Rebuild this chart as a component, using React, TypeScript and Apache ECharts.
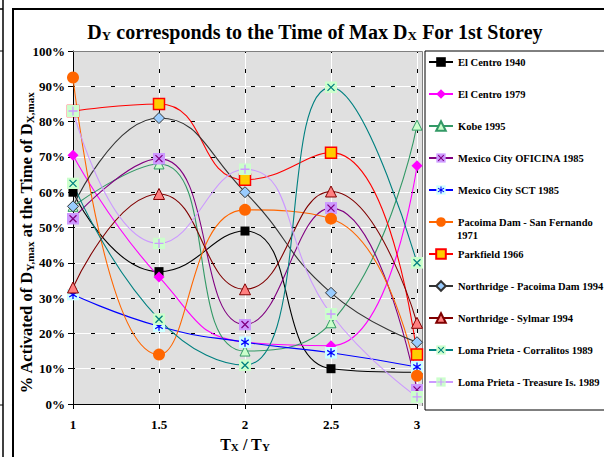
import React, { useEffect, useRef } from "react";
import * as echarts from "echarts";

// ---- data ----
const xValues = [1, 1.5, 2, 2.5, 3];
const xTickLabels = ["1", "1.5", "2", "2.5", "3"];
const elCentro1940 = [60, 37.5, 49, 10, 9];
const elCentro1979 = [70.5, 36, 17.5, 16.5, 67.5];
const kobe1995 = [56, 68, 15, 23, 79];
const mexicoOficina1985 = [52.5, 69.5, 22.5, 55.5, 4];
const mexicoSct1985 = [31, 22, 17.5, 14.5, 10.5];
const pacoimaSanFernando1971 = [92.5, 14, 55, 52.5, 8];
const parkfield1966 = [83, 85, 63.5, 71.2, 14];
const northridgePacoima1994 = [56, 81, 60, 31.5, 17.5];
const northridgeSylmar1994 = [33, 59.5, 32.5, 60.2, 23];
const lomaCorralitos1989 = [62.5, 24, 11, 89.7, 40];
const lomaTreasure1989 = [83, 45.5, 66.5, 25.5, 2];

const seriesNames = [
  "El Centro 1940",
  "El Centro 1979",
  "Kobe 1995",
  "Mexico City OFICINA 1985",
  "Mexico City SCT 1985",
  "Pacoima Dam - San Fernando 1971",
  "Parkfield 1966",
  "Northridge - Pacoima Dam 1994",
  "Northridge - Sylmar 1994",
  "Loma Prieta - Corralitos 1989",
  "Loma Prieta - Treasure Is. 1989",
];

const FONT = "'Liberation Serif', 'Times New Roman', serif";

function svgSymbol(bg: string, inner: string): string {
  const svg =
    `<svg xmlns='http://www.w3.org/2000/svg' width='12' height='12' viewBox='0 0 12 12'>` +
    `<rect x='0' y='0' width='12' height='12' fill='${bg}'/>${inner}</svg>`;
  return "image://data:image/svg+xml;charset=utf-8," + encodeURIComponent(svg);
}
const xMark = (c: string) =>
  `<path d='M2.5 2.5L9.5 9.5M9.5 2.5L2.5 9.5' stroke='${c}' stroke-width='1.3' fill='none'/>`;
const plusMark = (c: string) =>
  `<path d='M6 1.5V10.5M1.5 6H10.5' stroke='${c}' stroke-width='1.3' fill='none'/>`;
const starMark = (c: string) =>
  `<path d='M6 1.5V10.5M2.2 3.6L9.8 8.4M9.8 3.6L2.2 8.4' stroke='${c}' stroke-width='1.3' fill='none'/>`;

export default function App() {
  const ref = useRef<HTMLDivElement>(null);

  useEffect(() => {
    if (!ref.current) return;
    const chart = echarts.init(ref.current, undefined, { renderer: "svg" });

    const mk = (
      name: string,
      values: number[],
      color: string,
      symbol: string,
      symbolSize: number,
      itemStyle: any
    ) => ({
      name,
      type: "line",
      smooth: 0.5,
      smoothConstraint: false,
      data: xValues.map((x, i) => [x, values[i]]),
      xAxisIndex: 0,
      yAxisIndex: 0,
      symbol,
      symbolSize,
      showAllSymbol: true,
      lineStyle: { color, width: 1.1 },
      itemStyle,
      emphasis: { disabled: true },
      z: 3,
    });

    const series = [
      mk(seriesNames[0], elCentro1940, "#000000", "rect", 9, { color: "#000000" }),
      mk(seriesNames[1], elCentro1979, "#ff00ff", "diamond", 11, { color: "#ff00ff" }),
      mk(seriesNames[2], kobe1995, "#339966", "triangle", 10, {
        color: "#ccffcc",
        borderColor: "#339966",
        borderWidth: 1,
      }),
      mk(seriesNames[3], mexicoOficina1985, "#800080", svgSymbol("#cc99ff", xMark("#800080")), 12, {
        color: "#cc99ff",
      }),
      mk(seriesNames[4], mexicoSct1985, "#0000ff", svgSymbol("#ccffff", starMark("#0000ff")), 12, {
        color: "#ccffff",
      }),
      mk(seriesNames[5], pacoimaSanFernando1971, "#ff6600", "circle", 12, { color: "#ff6600" }),
      mk(seriesNames[6], parkfield1966, "#ff0000", "rect", 11, {
        color: "#ffcc00",
        borderColor: "#ff0000",
        borderWidth: 1.5,
      }),
      mk(seriesNames[7], northridgePacoima1994, "#333333", "diamond", 11, {
        color: "#99ccff",
        borderColor: "#333333",
        borderWidth: 1,
      }),
      mk(seriesNames[8], northridgeSylmar1994, "#800000", "triangle", 11, {
        color: "#ff8080",
        borderColor: "#800000",
        borderWidth: 1,
      }),
      mk(seriesNames[9], lomaCorralitos1989, "#008080", svgSymbol("#ccffcc", xMark("#008080")), 12, {
        color: "#ccffcc",
      }),
      mk(seriesNames[10], lomaTreasure1989, "#cc99ff", svgSymbol("#ccffcc", plusMark("#cc99ff")), 12, {
        color: "#ccffcc",
      }),
    ];

    const axisFont = { color: "#000", fontFamily: FONT, fontWeight: "bold" as const, fontSize: 13 };

    chart.setOption({
      animation: false,
      backgroundColor: "#ffffff",
      title: {
        text: "{b|D}{s|Y}{b| corresponds to the Time of Max D}{s|X}{b| For 1st Storey}",
        left: 310,
        top: 12,
        textAlign: "center",
        textStyle: {
          rich: {
            b: { fontFamily: FONT, fontWeight: "bold", fontSize: 20, color: "#000", lineHeight: 25, verticalAlign: "bottom" },
            s: { fontFamily: FONT, fontWeight: "bold", fontSize: 13, color: "#000", lineHeight: 16, verticalAlign: "bottom" },
          },
        },
      },
      grid: {
        left: 73,
        right: 187,
        top: 51,
        bottom: 51,
        show: true,
        backgroundColor: "#e0e0e0",
        borderWidth: 0,
      },
      legend: {
        orient: "vertical",
        left: 425,
        top: 51,
        padding: [5, 6, 22, 3],
        itemGap: 20,
        itemWidth: 24,
        itemHeight: 12,
        selectedMode: false,
        backgroundColor: "#ffffff",
        borderColor: "#000000",
        borderWidth: 1,
        data: seriesNames,
        formatter: (n: string) => (n === seriesNames[5] ? "Pacoima Dam - San Fernando" : n),
        textStyle: { fontFamily: FONT, fontWeight: "bold", fontSize: 10.5, lineHeight: 12, color: "#000" },
      },
      xAxis: [
        {
          type: "value",
          min: 1,
          max: 3,
          interval: 0.5,
          position: "bottom",
          axisLine: { show: true, onZero: false, lineStyle: { color: "#000", width: 1 } },
          axisTick: { show: true, length: 5, lineStyle: { color: "#000" } },
          axisLabel: {
            ...axisFont,
            margin: 14,
            formatter: (v: number) => xTickLabels[xValues.indexOf(v)] ?? "",
          },
          splitLine: { show: true, lineStyle: { color: "#ffffff", width: 1 } },
          name: "{b|T}{s|X}{b| / T}{s|Y}",
          nameLocation: "middle",
          nameGap: 28,
          nameTextStyle: {
            rich: {
              b: { fontFamily: FONT, fontWeight: "bold", fontSize: 16, color: "#000", lineHeight: 20, verticalAlign: "bottom" },
              s: { fontFamily: FONT, fontWeight: "bold", fontSize: 11, color: "#000", lineHeight: 13, verticalAlign: "bottom" },
            },
          },
        },
        {
          type: "value",
          min: 1,
          max: 3,
          interval: 0.5,
          position: "top",
          axisLine: { show: false },
          axisTick: { show: false },
          axisLabel: { show: false },
          splitLine: { show: true, lineStyle: { color: "#000", width: 1, type: [4, 16], dashOffset: 2 } },
        },
      ],
      yAxis: [
        {
          type: "value",
          min: 0,
          max: 100,
          interval: 10,
          position: "left",
          axisLine: { show: true, onZero: false, lineStyle: { color: "#000", width: 1 } },
          axisTick: { show: true, length: 5, lineStyle: { color: "#000" } },
          axisLabel: { ...axisFont, margin: 8, formatter: "{value}%" },
          splitLine: { show: true, lineStyle: { color: "#ffffff", width: 1 } },
        },
        {
          type: "value",
          min: 0,
          max: 100,
          interval: 10,
          position: "right",
          axisLine: { show: false },
          axisTick: { show: false },
          axisLabel: { show: false },
          splitLine: { show: true, lineStyle: { color: "#000", width: 1, type: [4, 16], dashOffset: 2 } },
        },
      ],
      graphic: [
        // outer chart frame
        {
          type: "rect",
          z: 0,
          shape: { x: 13, y: 9, width: 600, height: 460 },
          style: { fill: "none", stroke: "#000", lineWidth: 2 },
          silent: true,
        },
        // neighbouring panel edges
        { type: "line", shape: { x1: 3, y1: 0, x2: 3, y2: 457 }, style: { stroke: "#000", lineWidth: 1.5 }, silent: true },
        { type: "line", shape: { x1: 0, y1: 9, x2: 3, y2: 9 }, style: { stroke: "#000", lineWidth: 1.5 }, silent: true },
        { type: "line", shape: { x1: 0, y1: 51, x2: 3, y2: 51 }, style: { stroke: "#000", lineWidth: 1 }, silent: true },
        { type: "line", shape: { x1: 0, y1: 405, x2: 3, y2: 405 }, style: { stroke: "#000", lineWidth: 1 }, silent: true },
        // plot area extension and border
        {
          type: "rect",
          z: 0,
          shape: { x: 417.5, y: 51, width: 5, height: 355 },
          style: { fill: "#e0e0e0" },
          silent: true,
        },
        {
          type: "polyline",
          z: 1,
          shape: { points: [[73, 51.5], [422.5, 51.5], [422.5, 406]] },
          style: { stroke: "#808080", lineWidth: 1, fill: "none" },
          silent: true,
        },
        // y-axis title
        {
          type: "text",
          z: 10,
          x: 25,
          y: 243,
          rotation: Math.PI / 2,
          style: {
            text: "{b|% Activated of D}{s|Y,max}{b| at the Time of D}{s|X,max}",
            align: "center",
            verticalAlign: "middle",
            fill: "#000",
            rich: {
              b: { fontFamily: FONT, fontWeight: "bold", fontSize: 16.5, fill: "#000", lineHeight: 20, verticalAlign: "bottom" },
              s: { fontFamily: FONT, fontWeight: "bold", fontSize: 11, fill: "#000", lineHeight: 13, verticalAlign: "bottom" },
            },
          },
          silent: true,
        },
        // second line of the Pacoima legend entry
        {
          type: "text",
          z: 10,
          x: 457,
          y: 235,
          style: {
            text: "1971",
            font: `bold 10.5px ${FONT}`,
            fill: "#000",
            verticalAlign: "middle",
            align: "left",
          },
          silent: true,
        },
      ],
      series,
    });

    return () => chart.dispose();
  }, []);

  return (
    <div
      ref={ref}
      style={{ position: "fixed", left: 0, top: 0, width: 604, height: 457, background: "#fff" }}
    />
  );
}
